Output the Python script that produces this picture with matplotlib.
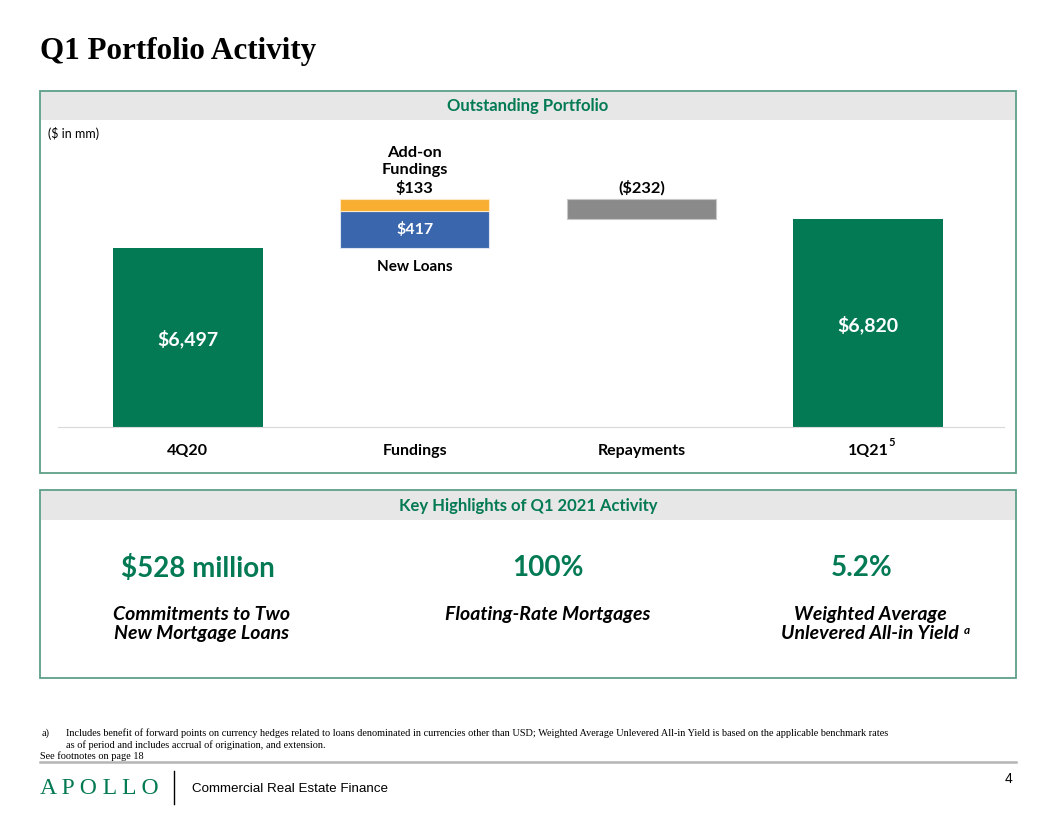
import numpy as np
import matplotlib.pyplot as plt
from matplotlib.patches import Rectangle
from matplotlib.lines import Line2D

# data ($ in mm)
categories = ['4Q20', 'Fundings', 'Repayments', '1Q21']
opening = 6497
new_loans = 417
addon_fundings = 133
repayments = -232
closing = 6820

highlight_values = ['$528 million', '100%', '5.2%']
highlight_labels = ['Commitments to Two\nNew Mortgage Loans',
                    'Floating-Rate Mortgages',
                    'Weighted Average\nUnlevered All-in Yield']

GREEN = '#037A53'
BLUE = '#3A66AE'
ORANGE = '#F8AE30'
GREY = '#8A8A8A'
BORDER = '#5E9F87'
BAND = '#E7E7E7'
FONT = ['Lato', 'DejaVu Sans']

W, H = 1056, 816
fig = plt.figure(figsize=(W / 100, H / 100), dpi=100)


def fx(x):
    return x / W


def fy(y):
    return 1 - y / H


def ftext(x, y, s, **kw):
    kw.setdefault('family', FONT)
    return fig.text(fx(x), fy(y), s, **kw)


def panel(x0, y0, x1, y1, band_h, title):
    fig.add_artist(Rectangle((fx(x0), fy(y0 + band_h)), fx(x1 - x0), (band_h) / H,
                             facecolor=BAND, edgecolor='none', transform=fig.transFigure, zorder=0))
    fig.add_artist(Rectangle((fx(x0), fy(y1)), fx(x1 - x0), (y1 - y0) / H,
                             facecolor='none', edgecolor=BORDER, lw=1.3, transform=fig.transFigure, zorder=1))
    ftext((x0 + x1) / 2, y0 + band_h / 2 + 1, title, color=GREEN, fontsize=12, fontweight='bold',
          ha='center', va='center')


# title
fig.text(fx(40), fy(52), 'Q1 Portfolio Activity', family=['Liberation Serif', 'DejaVu Serif'],
         fontsize=22.4, fontweight='bold', ha='left', va='center')

panel(40, 91, 1016, 473, 29, 'Outstanding Portfolio')
panel(40, 490, 1016, 678, 30, 'Key Highlights of Q1 2021 Activity')
ftext(48, 133, '($ in mm)', fontsize=9, ha='left', va='center')

# waterfall chart
ax_l, ax_r, ax_t, ax_b = 58, 1004, 127, 427
ax = fig.add_axes([fx(ax_l), fy(ax_b), fx(ax_r - ax_l), (ax_b - ax_t) / H])
x = np.arange(len(categories))
w = 0.66
units_per_px = 1994 / 179
y_floor = 4503
ax.set_ylim(y_floor, y_floor + (ax_b - ax_t) * units_per_px)
ax.set_xlim(-(188 - ax_l) / 227, 3 + (ax_r - 868) / 227)

peak = opening + new_loans + addon_fundings
ax.bar(x[0], opening, w, color=GREEN)
ax.bar(x[1], new_loans, w, bottom=opening, color=BLUE, edgecolor='#dfe6f2', lw=0.8)
ax.bar(x[1], addon_fundings, w, bottom=opening + new_loans, color=ORANGE, edgecolor='#fde9c4', lw=0.8)
ax.bar(x[2], -repayments, w, bottom=peak + repayments, color=GREY, edgecolor='#c8c8c8', lw=0.8)
ax.bar(x[3], closing, w, color=GREEN)

lab = dict(family=FONT, fontweight='bold', ha='center', va='center')
ax.text(x[0], y_floor + 0.49 * (opening - y_floor), f'${opening:,}', color='white', fontsize=14, **lab)
ax.text(x[3], y_floor + 0.49 * (closing - y_floor), f'${closing:,}', color='white', fontsize=14, **lab)
ax.text(x[1], opening + new_loans / 2, f'${new_loans}', color='white', fontsize=11.5, **lab)
ax.text(x[1], peak + 30, f'Add-on\nFundings\n${addon_fundings}', color='black', fontsize=11.8,
        linespacing=1.3, **{**lab, 'va': 'bottom'})
ax.text(x[1], opening - 130, 'New Loans', color='black', fontsize=11, **{**lab, 'va': 'top'})
ax.text(x[2], peak + 30, f'(${-repayments})', color='black', fontsize=11.8, **{**lab, 'va': 'bottom'})

ax.set_xticks(x)
ax.set_xticklabels(categories, family=FONT, fontweight='bold', fontsize=11.5)
ax.tick_params(axis='x', length=0, pad=12)
ax.set_yticks([])
for s in ['top', 'left', 'right']:
    ax.spines[s].set_visible(False)
ax.spines['bottom'].set_color('#d9d9d9')
ax.patch.set_alpha(0)
ftext(892, 443, '5', fontsize=8, fontweight='bold', ha='center', va='center')

# key highlights
col_x = [198, 548, 862]
lab_x = [202, 548, 870]
fig.canvas.draw()
renderer = fig.canvas.get_renderer()
last = None
for cx, lx, val, txt in zip(col_x, lab_x, highlight_values, highlight_labels):
    ftext(cx, 568, val, color=GREEN, fontsize=20, fontweight='bold', ha='center', va='center')
    last = ftext(lx, 606, txt, color='black', fontsize=14, fontweight='bold', style='italic',
                 ha='center', va='top', linespacing=1.15)
bb = last.get_window_extent(renderer)
fig.text((bb.x1 + 5) / W, fy(630), 'a', family=FONT, fontsize=8.5, fontweight='bold',
         style='italic', ha='left', va='center')

# footnotes
serif = ['Liberation Serif', 'DejaVu Serif']
fig.text(fx(42), fy(733), 'a)', family=serif, fontsize=7.4, ha='left', va='center')
fig.text(fx(66), fy(733), 'Includes benefit of forward points on currency hedges related to loans denominated in '
         'currencies other than USD; Weighted Average Unlevered All-in Yield is based on the applicable '
         'benchmark rates', family=serif, fontsize=7.4, ha='left', va='center')
fig.text(fx(66), fy(745), 'as of period and includes accrual of origination, and extension.',
         family=serif, fontsize=7.4, ha='left', va='center')
fig.text(fx(40), fy(756), 'See footnotes on page 18', family=serif, fontsize=7.4, ha='left', va='center')
fig.add_artist(Line2D([fx(40), fx(1016)], [fy(762), fy(762)], color='#b5b5b5', lw=1.8))

# footer
fig.text(fx(40), fy(789), 'A P O L L O', family=serif, color=GREEN, fontsize=17, ha='left', va='center')
fig.add_artist(Line2D([fx(174), fx(174)], [fy(771), fy(804)], color='black', lw=1))
fig.text(fx(192), fy(789), 'Commercial Real Estate Finance', family=['Liberation Sans', 'DejaVu Sans'],
         fontsize=9.6, ha='left', va='center')
fig.text(fx(1012), fy(779), '4', family=['Liberation Sans', 'DejaVu Sans'], fontsize=10,
         ha='right', va='center')

fig.savefig('out.png', dpi=100)
